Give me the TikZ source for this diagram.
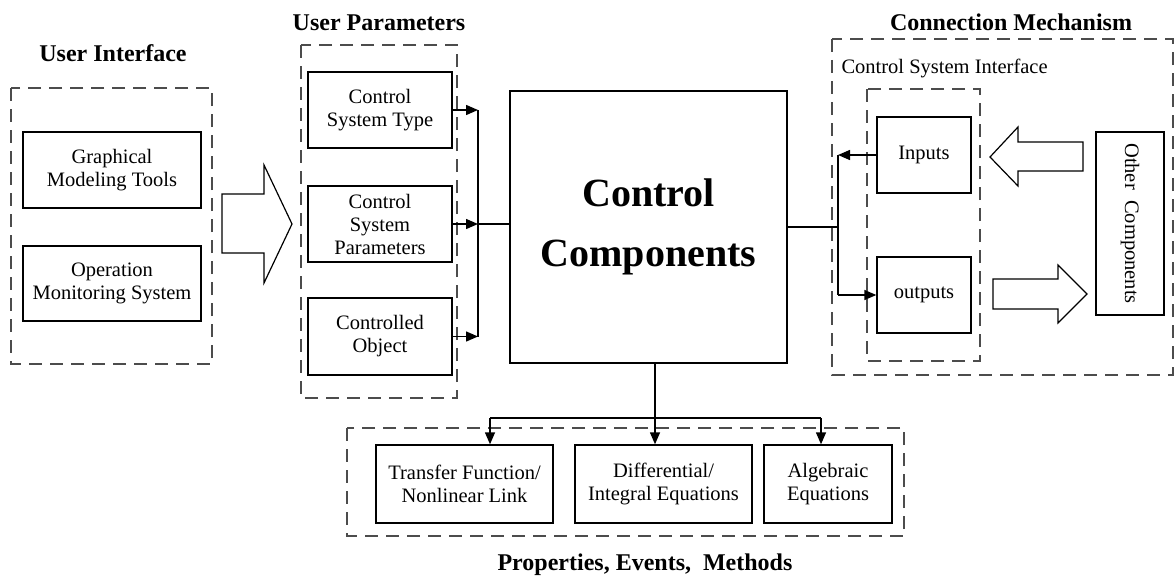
\documentclass[tikz,border=0pt]{standalone}
\usepackage{fontspec}
\setmainfont{Liberation Serif}
\usetikzlibrary{arrows.meta,calc}
\begin{document}
\begin{tikzpicture}[x=1pt,y=-1pt,
  box/.style={draw,line width=1.4pt,align=center,inner sep=2pt,font=\fontsize{20.5}{23}\selectfont},
  group/.style={draw=black!70,line width=1.1pt,dash pattern=on 13pt off 8pt},
  title/.style={font=\fontsize{24}{27}\selectfont\bfseries},
  link/.style={line width=1.4pt},
  arr/.style={line width=1.4pt,-{Triangle[length=12pt,width=10pt]}},
  blockarrow/.style={draw,line width=1.2pt,line join=miter,fill=white}]
\useasboundingbox (0,0) rectangle (1174,578);
% dashed groups
\draw[group] (11,88) rectangle (212,364);
\draw[group] (301,45) rectangle (457,398);
\draw[group] (832,39) rectangle (1173,375);
\draw[group] (867,89) rectangle (980,361);
\draw[group] (347,428) rectangle (904,536);
% titles
\node[title] (tui) at (113,53) {User Interface};
\node[title] (tup) at (379,23) {User Parameters};
\node[title] (tcm) at (1011,22) {Connection Mechanism};
\node[title] (tpem) at (645,565) {Properties, Events,~~Methods};
\node[anchor=west,font=\fontsize{20.5}{23}\selectfont] (csi) at (838,68) {Control System Interface};
% user interface
\node[box,minimum width=178pt,minimum height=76pt] (gmt) at (112,170) {Graphical\\Modeling Tools};
\node[box,minimum width=178pt,minimum height=75pt] (oms) at (112,283.5) {Operation\\Monitoring System};
\draw[blockarrow] (222,194) -- (264,194) -- (264,165) -- (292,224) -- (264,283) -- (264,253) -- (222,253) -- cycle;
% user parameters
\node[box,minimum width=144pt,minimum height=76pt] (cst) at (380,110) {Control\\System Type};
\node[box,minimum width=144pt,minimum height=76pt] (csp) at (380,224) {Control\\System\\Parameters};
\node[box,minimum width=144pt,minimum height=77pt] (co) at (380,336.5) {Controlled\\Object};
% control components
\node[box,minimum width=277pt,minimum height=272pt,font=\fontsize{40}{60}\selectfont\bfseries] (cc) at (648.5,227) {Control\\Components};
\coordinate (jl) at (478,224);
\draw[arr] (cst.east) -- (cst.east -| jl);
\draw[arr] (csp.east) -- (csp.east -| jl);
\draw[arr] (co.east) -- (co.east -| jl);
\draw[link] (cst.east -| jl) -- (co.east -| jl);
\draw[link] (jl) -- (jl -| cc.west);
% connection mechanism
\node[box,minimum width=94pt,minimum height=76pt] (in) at (924,155) {Inputs};
\node[box,minimum width=94pt,minimum height=76pt] (out) at (924,295) {outputs};
\node[box,minimum width=183pt,minimum height=68pt,rotate=-90] (oc) at (1130,223.5) {Other~~Components};
\coordinate (jr) at (838,227);
\draw[link] (cc.east) -- (jr);
\draw[link] (jr |- in.west) -- (jr |- out.west);
\draw[arr] (in.west) -- (in.west -| jr);
\draw[arr] (out.west -| jr) -- (out.west);
\draw[blockarrow] (1083,142) -- (1018,142) -- (1018,127) -- (990,157) -- (1018,186) -- (1018,171) -- (1083,171) -- cycle;
\draw[blockarrow] (993,279) -- (1058,279) -- (1058,265) -- (1087,294) -- (1058,323) -- (1058,309) -- (993,309) -- cycle;
% properties
\node[box,minimum width=177pt,minimum height=78pt] (tf) at (464.5,484) {Transfer Function/\\Nonlinear Link};
\node[box,minimum width=177pt,minimum height=78pt] (de) at (663.5,484) {Differential/\\Integral Equations};
\node[box,minimum width=128pt,minimum height=78pt] (ae) at (828,484) {Algebraic\\Equations};
\coordinate (jb) at (655,418);
\coordinate (bl) at (490,418);
\coordinate (br) at (821,418);
\draw[link] (jb |- cc.south) -- (jb);
\draw[link] (bl) -- (br);
\draw[arr] (bl) -- (bl |- tf.north);
\draw[arr] (jb) -- (jb |- de.north);
\draw[arr] (br) -- (br |- ae.north);
\end{tikzpicture}
\end{document}
